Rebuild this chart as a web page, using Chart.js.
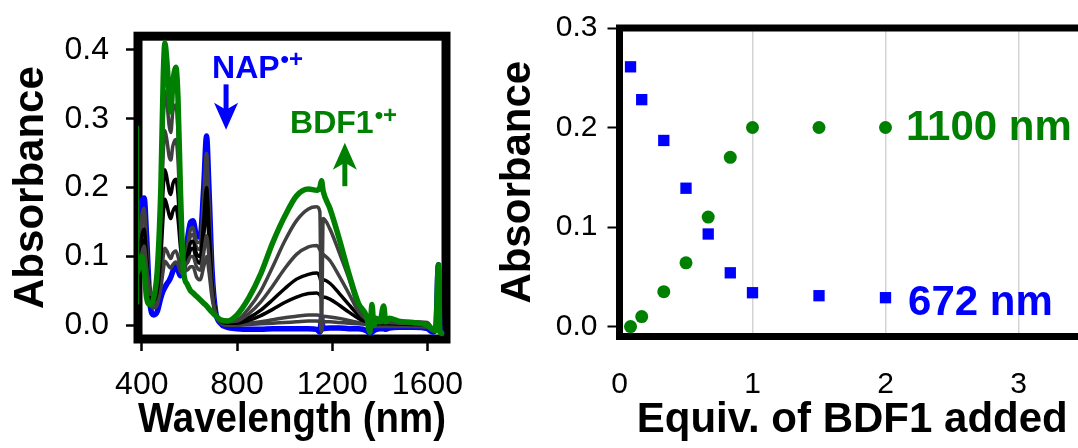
<!DOCTYPE html>
<html>
<head>
<meta charset="utf-8">
<script src="https://cdn.jsdelivr.net/npm/chart.js@4.4.1/dist/chart.umd.min.js"></script>
<style>
  html, body { margin: 0; padding: 0; background: #fff; overflow: hidden; width: 1078px; height: 448px; }
  #left { position: absolute; left: 0; top: 0; }
  #right { position: absolute; left: 490px; top: 0; }
</style>
</head>
<body>
<canvas id="left" width="500" height="448"></canvas>
<canvas id="right" width="620" height="448"></canvas>
<script>
// ---- left panel: spectra during titration (nm -> absorbance) ----
const wavelengths = [
  385, 400, 410, 420, 435, 450, 465, 480, 490, 497, 505, 515, 522, 530, 543, 552, 562,
  575, 590, 605, 615, 630, 645, 660, 672, 682, 695, 710, 730, 760,
  800, 850, 900, 950, 1000, 1050, 1100, 1135, 1148, 1155, 1162, 1190, 1230, 1270, 1310, 1345,
  1358, 1367, 1375, 1385, 1400, 1416, 1425, 1440, 1480, 1540, 1600, 1622, 1635, 1646, 1652, 1660
];
const absNap = [
  .12, .18, .185, .13, .03, .015, .02, .04, .05, .055, .06, .065, .07, .078, .085, .08, .072,
  .075, .12, .15, .152, .13, .128, .2, .275, .2, .08, .02, .003, -.003,
  -.005, -.006, -.006, -.005, -.005, -.005, -.005, -.006, -.01, .01, -.005, -.004, -.004, -.005, -.005, -.008,
  -.012, -.01, -.008, -.006, -.005, -.005, -.006, -.004, -.003, -.003, -.005, -.01, -.005, .088, -.005, -.01
];
const absStep6 = [
  .11, .16, .17, .12, .035, .025, .03, .055, .08, .093, .09, .085, .083, .088, .092, .088, .078,
  .075, .11, .14, .142, .122, .12, .185, .25, .18, .075, .02, .004, 0,
  0, .001, .002, .003, .004, .005, .006, .006, .005, -.01, .005, .005, .004, .003, .002, .001,
  0, 0, -.002, -.002, -.002, -.002, -.002, -.002, -.002, -.002, -.003, -.008, -.004, .085, -.004, -.01
];
const absStep5 = [
  .1, .15, .16, .11, .04, .03, .035, .065, .1, .112, .108, .1, .097, .104, .108, .1, .085,
  .078, .105, .13, .132, .113, .11, .17, .23, .165, .07, .02, .005, .002,
  .002, .003, .005, .008, .011, .013, .015, .015, .014, .005, .013, .012, .01, .007, .004, .003,
  .002, .002, .001, 0, 0, 0, 0, 0, 0, 0, -.002, -.007, -.003, .085, -.003, -.01
];
const absStep4 = [
  .09, .13, .14, .1, .045, .035, .05, .1, .16, .183, .175, .16, .155, .165, .172, .155, .115,
  .085, .1, .12, .122, .104, .1, .15, .2, .145, .062, .02, .006, .003,
  .003, .007, .014, .023, .033, .041, .046, .047, .044, .04, .041, .038, .029, .019, .01, .005,
  .004, .003, .002, .002, .002, .002, .002, .002, .002, .001, 0, -.006, -.002, .085, -.002, -.01
];
const absStep3 = [
  .085, .115, .125, .09, .05, .04, .06, .13, .2, .226, .215, .195, .19, .205, .212, .19, .13,
  .088, .095, .11, .112, .095, .09, .13, .17, .125, .055, .02, .007, .004,
  .005, .011, .022, .037, .053, .067, .074, .076, .07, .06, .066, .061, .046, .03, .015, .006,
  .005, .004, .003, .003, .003, .003, .003, .003, .002, .002, .001, -.005, -.002, .085, -.002, -.01
];
const absStep2 = [
  .08, .105, .115, .085, .05, .045, .07, .16, .25, .283, .27, .245, .24, .26, .27, .24, .155,
  .09, .09, .1, .1, .085, .08, .105, .13, .1, .048, .018, .008, .005,
  .006, .017, .034, .057, .082, .103, .114, .116, .11, .105, .103, .094, .071, .046, .02, .008,
  .006, .005, .004, .004, .004, .004, .004, .004, .003, .003, .002, -.005, -.002, .085, -.002, -.01
];
const absStep1 = [
  .075, .1, .105, .075, .045, .045, .08, .2, .3, .34, .325, .29, .28, .31, .32, .28, .17,
  .09, .08, .085, .085, .07, .066, .085, .1, .078, .04, .016, .008, .007,
  .008, .025, .05, .085, .122, .152, .169, .172, .165, -.007, .155, .14, .105, .068, .025, .01,
  .008, .007, .006, .006, .006, .006, .006, .006, .005, .005, .004, -.004, -.002, .085, -.002, -.01
];
const absBdf = [
  .08, .1, .08, .04, .03, .04, .08, .2, .36, .41, .385, .335, .31, .35, .375, .33, .2,
  .08, .06, .05, .047, .042, .037, .032, .028, .024, .019, .014, .008, .006,
  .015, .04, .075, .12, .158, .188, .198, .196, .2, .21, .195, .17, .125, .075, .032, .012,
  -.01, .03, 0, .01, .005, .028, .005, .01, .006, .004, 0, -.006, -.008, .088, -.01, -.012
];
const edgeNm = [385, 386];
const edgeAbs = [0.29, 0.03];
const nmTicks = [400, 800, 1200, 1600];
const leftAbsTicks = [0, 0.1, 0.2, 0.3, 0.4];

// ---- right panel: absorbance vs equivalents ----
const equivAdded = [0.083, 0.167, 0.333, 0.5, 0.667, 0.833, 1, 1.5, 2];
const abs672 = [0.261, 0.228, 0.187, 0.139, 0.093, 0.054, 0.034, 0.031, 0.029];
const abs1100 = [0.0, 0.010, 0.035, 0.064, 0.110, 0.170, 0.200, 0.200, 0.200];
const equivTicks = [0, 1, 2, 3];
const rightAbsTicks = [0, 0.1, 0.2, 0.3];

const BLUE = '#0000ff', GREEN = '#008000', DARK = '#404040', BLACK = '#000000';
Chart.defaults.font.family = "'Liberation Sans', Arial, sans-serif";
Chart.defaults.color = '#000';

const framePlugin = {
  id: 'frame',
  beforeDatasetsDraw(chart, args, opts) {
    const { ctx, chartArea: a } = chart;
    ctx.save();
    ctx.strokeStyle = '#000';
    ctx.lineWidth = opts.width;
    ctx.strokeRect(a.left, a.top, a.right - a.left, a.bottom - a.top);
    ctx.restore();
  }
};

// text labels and arrows placed in data coordinates
const notesPlugin = {
  id: 'notes',
  afterDatasetsDraw(chart, args, opts) {
    const { ctx, scales: { x, y } } = chart;
    ctx.save();
    ctx.textBaseline = 'alphabetic';
    ctx.textAlign = 'left';
    (opts.texts || []).forEach(t => {
      const px = x.getPixelForValue(t.x), py = y.getPixelForValue(t.y);
      ctx.fillStyle = t.color;
      ctx.font = 'bold ' + t.size + "px 'Liberation Sans', Arial, sans-serif";
      ctx.fillText(t.text, px, py);
      if (t.sup) {
        const w = ctx.measureText(t.text).width;
        ctx.font = 'bold ' + t.supSize + "px 'Liberation Sans', Arial, sans-serif";
        ctx.fillText(t.sup, px + w + 1, py - t.supRise);
      }
    });
    (opts.arrows || []).forEach(a => {
      const px = x.getPixelForValue(a.x);
      const y0 = y.getPixelForValue(a.from), y1 = y.getPixelForValue(a.to);
      const dir = y1 > y0 ? 1 : -1;
      ctx.strokeStyle = a.color; ctx.fillStyle = a.color;
      ctx.lineWidth = 5;
      ctx.beginPath();
      ctx.moveTo(px, y0);
      ctx.lineTo(px, y1 - dir * 14);
      ctx.stroke();
      ctx.beginPath();
      ctx.moveTo(px, y1);
      ctx.lineTo(px - 12, y1 - dir * 27);
      ctx.lineTo(px, y1 - dir * 20);
      ctx.lineTo(px + 12, y1 - dir * 27);
      ctx.closePath();
      ctx.fill();
    });
    ctx.restore();
  }
};

function curve(label, vals, color, width) {
  return {
    label,
    data: wavelengths.map((w, i) => ({ x: w, y: vals[i] })),
    borderColor: color,
    borderWidth: width,
    pointRadius: 0,
    fill: false,
    cubicInterpolationMode: 'monotone',
    borderJoinStyle: 'round',
    borderCapStyle: 'round'
  };
}

new Chart(document.getElementById('left'), {
  type: 'line',
  data: {
    datasets: [
      {
        label: 'edge', data: edgeNm.map((w, i) => ({ x: w, y: edgeAbs[i] })),
        borderColor: GREEN, borderWidth: 1.5, pointRadius: 0, fill: false
      },
      curve('BDF1', absBdf, GREEN, 5.5),
      curve('step 1', absStep1, DARK, 3.5),
      curve('step 2', absStep2, DARK, 3.5),
      curve('step 3', absStep3, BLACK, 3.5),
      curve('step 4', absStep4, BLACK, 3.5),
      curve('step 5', absStep5, DARK, 3.5),
      curve('step 6', absStep6, DARK, 3.5),
      curve('NAP', absNap, BLUE, 5.5)
    ]
  },
  options: {
    responsive: false,
    animation: false,
    layout: { padding: { top: 29, right: 54, left: 0, bottom: 0 } },
    plugins: {
      legend: { display: false },
      tooltip: { enabled: false },
      frame: { width: 9 },
      notes: {
        texts: [
          { text: 'NAP', sup: '•+', x: 695, y: 0.359, color: BLUE, size: 32, supSize: 24, supRise: 11 },
          { text: 'BDF1', sup: '•+', x: 1023, y: 0.28, color: GREEN, size: 32, supSize: 24, supRise: 10 }
        ],
        arrows: [
          { x: 754, from: 0.35, to: 0.284, color: BLUE },
          { x: 1253, from: 0.202, to: 0.265, color: GREEN }
        ]
      }
    },
    scales: {
      x: {
        type: 'linear', min: 384, max: 1678,
        afterBuildTicks: s => { s.ticks = nmTicks.map(v => ({ value: v })); },
        afterFit: s => { s.height = 109; },
        border: { display: false },
        grid: { drawOnChartArea: false, drawTicks: true, tickLength: 12, tickWidth: 2.5, tickColor: '#000' },
        ticks: { font: { size: 32 }, padding: 15, maxRotation: 0, autoSkip: false, color: '#000',
                 callback: v => String(v) },
        title: { display: true, text: 'Wavelength (nm)', color: '#000',
                 font: { size: 42, weight: 'bold' }, padding: { top: 0, bottom: 2 } }
      },
      y: {
        type: 'linear', min: -0.02, max: 0.42,
        afterBuildTicks: s => { s.ticks = leftAbsTicks.map(v => ({ value: v })); },
        afterFit: s => { s.width = 138; },
        border: { display: false },
        grid: { drawOnChartArea: false, drawTicks: true, tickLength: 12, tickWidth: 2.5, tickColor: '#000' },
        ticks: { font: { size: 32 }, padding: 17, color: '#000', callback: v => v.toFixed(1) },
        title: { display: true, text: 'Absorbance', color: '#000',
                 font: { size: 42, weight: 'bold' }, padding: { top: 6, bottom: 0 } }
      }
    }
  },
  plugins: [framePlugin, notesPlugin]
});

new Chart(document.getElementById('right'), {
  type: 'scatter',
  data: {
    datasets: [
      {
        label: '672 nm', data: equivAdded.map((e, i) => ({ x: e, y: abs672[i] })),
        pointStyle: 'rect', pointRadius: 8, backgroundColor: BLUE, borderWidth: 0, clip: false
      },
      {
        label: '1100 nm', data: equivAdded.map((e, i) => ({ x: e, y: abs1100[i] })),
        pointStyle: 'circle', pointRadius: 6.5, backgroundColor: GREEN, borderWidth: 0, clip: false
      }
    ]
  },
  options: {
    responsive: false,
    animation: false,
    layout: { padding: { top: 27.5, right: 25, left: 0, bottom: 0 } },
    plugins: {
      legend: { display: false },
      tooltip: { enabled: false },
      frame: { width: 7 },
      notes: {
        texts: [
          { text: '1100 nm', x: 2.154, y: 0.1875, color: GREEN, size: 42 },
          { text: '672 nm', x: 2.17, y: 0.0117, color: BLUE, size: 42 }
        ]
      }
    },
    scales: {
      x: {
        type: 'linear', min: 0, max: 3.5,
        afterBuildTicks: s => { s.ticks = equivTicks.map(v => ({ value: v })); },
        afterFit: s => { s.height = 111.5; },
        border: { display: false },
        grid: {
          drawOnChartArea: true, drawTicks: false, lineWidth: 1.5,
          color: c => (c.tick && c.tick.value === 0) ? 'rgba(0,0,0,0)' : '#d4d4d4'
        },
        ticks: { font: { size: 30 }, padding: 30, maxRotation: 0, autoSkip: false, color: '#000',
                 callback: v => String(v) },
        title: { display: true, text: 'Equiv. of BDF1 added', color: '#000',
                 font: { size: 42, weight: 'bold' }, padding: { top: 0, bottom: 2 } }
      },
      y: {
        type: 'linear', min: -0.01, max: 0.3,
        afterBuildTicks: s => { s.ticks = rightAbsTicks.map(v => ({ value: v })); },
        afterFit: s => { s.width = 129.5; },
        border: { display: false },
        grid: { drawOnChartArea: false, drawTicks: true, tickLength: 12, tickWidth: 2, tickColor: '#000' },
        ticks: { font: { size: 30 }, padding: 10, color: '#000', callback: v => v.toFixed(1) },
        title: { display: true, text: 'Absorbance', color: '#000',
                 font: { size: 42, weight: 'bold' }, padding: { top: 3, bottom: 0 } }
      }
    }
  },
  plugins: [framePlugin, notesPlugin]
});
</script>
</body>
</html>
